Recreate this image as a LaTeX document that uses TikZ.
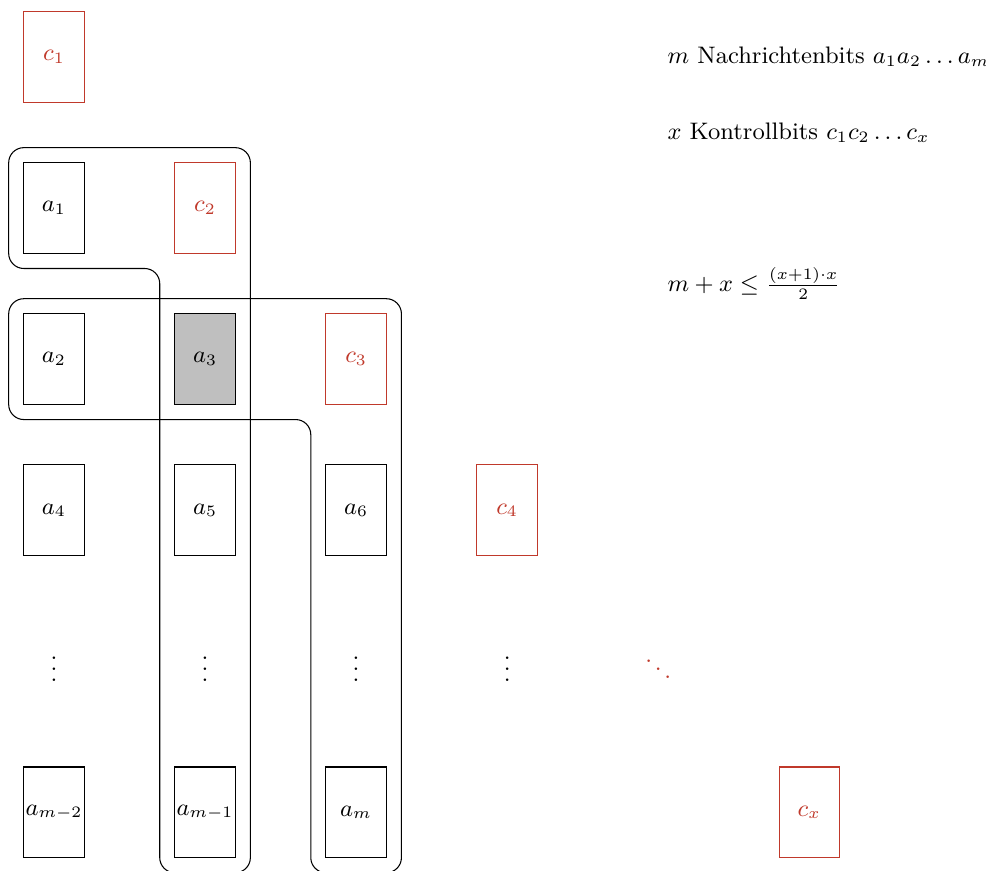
\documentclass[tikz,border=0pt]{standalone}
\definecolor{ctrlred}{RGB}{192,57,43}

\begin{document}
\begin{tikzpicture}[font=\small,
  bit/.style={draw,minimum width=0.8cm,minimum height=1.2cm,inner sep=0pt},
  ctrl/.style={bit,draw=ctrlred,text=ctrlred},
  group/.style={rounded corners=2mm}]
\useasboundingbox (-0.715,0.755) rectangle (12.34,-10.77);
% Kontrollbits auf der Diagonalen
\node[ctrl] (c1) at (0,0) {$c_1$};
\node[ctrl] (c2) at (2,-2) {$c_2$};
\node[ctrl] (c3) at (4,-4) {$c_3$};
\node[ctrl] (c4) at (6,-6) {$c_4$};
\node[text=ctrlred] (cdots) at (8,-8) {$\ddots$};
\node[ctrl] (cx) at (10,-10) {$c_x$};
% Nachrichtenbits
\node[bit] (a1) at (0,-2) {$a_1$};
\node[bit] (a2) at (0,-4) {$a_2$};
\node[bit,fill=gray!50] (a3) at (2,-4) {$a_3$};
\node[bit] (a4) at (0,-6) {$a_4$};
\node[bit] (a5) at (2,-6) {$a_5$};
\node[bit] (a6) at (4,-6) {$a_6$};
\foreach \i in {0,...,3} \node (v\i) at (2*\i,-8) {$\vdots$};
\node[bit] (am2) at (0,-10) {$a_{m-2}$};
\node[bit] (am1) at (2,-10) {$a_{m-1}$};
\node[bit] (am) at (4,-10) {$a_m$};
% Pruefgruppen
\draw[group] (-0.6,-1.2)--(2.6,-1.2)--(2.6,-10.8)--(1.4,-10.8)--(1.4,-2.8)--(-0.6,-2.8)--cycle;
\draw[group] (-0.6,-3.2)--(4.6,-3.2)--(4.6,-10.8)--(3.4,-10.8)--(3.4,-4.8)--(-0.6,-4.8)--cycle;
% Text
\node[anchor=west] (msg) at (8,0) {$m$ Nachrichtenbits $a_1a_2\dots a_m$};
\node[anchor=west] (chk) at (8,-1) {$x$ Kontrollbits $c_1c_2\dots c_x$};
\node[anchor=west] (ineq) at (8,-3) {$m+x\le\frac{(x+1)\cdot x}{2}$};
\end{tikzpicture}
\end{document}
